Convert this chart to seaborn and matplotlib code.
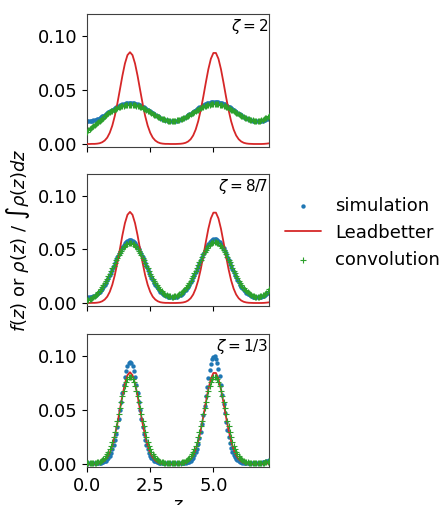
import numpy as np
import pandas as pd
import matplotlib
matplotlib.use("Agg")
import matplotlib.pyplot as plt
import seaborn as sns

# z positions of the Leadbetter curve (step 0.1)
z = [0.0, 0.1, 0.2, 0.3, 0.4, 0.5, 0.6, 0.7, 0.8, 0.9,
     1.0, 1.1, 1.2, 1.3, 1.4, 1.5, 1.6, 1.7, 1.8, 1.9,
     2.0, 2.1, 2.2, 2.3, 2.4, 2.5, 2.6, 2.7, 2.8, 2.9,
     3.0, 3.1, 3.2, 3.3, 3.4, 3.5, 3.6, 3.7, 3.8, 3.9,
     4.0, 4.1, 4.2, 4.3, 4.4, 4.5, 4.6, 4.7, 4.8, 4.9,
     5.0, 5.1, 5.2, 5.3, 5.4, 5.5, 5.6, 5.7, 5.8, 5.9,
     6.0, 6.1, 6.2, 6.3, 6.4, 6.5, 6.6, 6.7, 6.8, 6.9,
     7.0, 7.1, 7.2]

leadbetter = [0.0000, 0.0000, 0.0001, 0.0001, 0.0003, 0.0007, 0.0016, 0.0032, 0.0059, 0.0104,
              0.0170, 0.0260, 0.0374, 0.0502, 0.0632, 0.0745, 0.0823, 0.0850, 0.0823, 0.0745,
              0.0632, 0.0502, 0.0374, 0.0260, 0.0170, 0.0104, 0.0059, 0.0032, 0.0016, 0.0007,
              0.0003, 0.0001, 0.0001, 0.0000, 0.0000, 0.0000, 0.0001, 0.0002, 0.0005, 0.0011,
              0.0023, 0.0044, 0.0079, 0.0134, 0.0212, 0.0315, 0.0437, 0.0568, 0.0692, 0.0789,
              0.0843, 0.0843, 0.0789, 0.0692, 0.0568, 0.0437, 0.0315, 0.0212, 0.0134, 0.0079,
              0.0044, 0.0023, 0.0011, 0.0005, 0.0002, 0.0001, 0.0000, 0.0000, 0.0000, 0.0000,
              0.0001, 0.0003, 0.0006]

# z positions of the simulation / convolution points (step 0.05)
z_pts = [0.00, 0.05, 0.10, 0.15, 0.20, 0.25, 0.30, 0.35, 0.40, 0.45,
         0.50, 0.55, 0.60, 0.65, 0.70, 0.75, 0.80, 0.85, 0.90, 0.95,
         1.00, 1.05, 1.10, 1.15, 1.20, 1.25, 1.30, 1.35, 1.40, 1.45,
         1.50, 1.55, 1.60, 1.65, 1.70, 1.75, 1.80, 1.85, 1.90, 1.95,
         2.00, 2.05, 2.10, 2.15, 2.20, 2.25, 2.30, 2.35, 2.40, 2.45,
         2.50, 2.55, 2.60, 2.65, 2.70, 2.75, 2.80, 2.85, 2.90, 2.95,
         3.00, 3.05, 3.10, 3.15, 3.20, 3.25, 3.30, 3.35, 3.40, 3.45,
         3.50, 3.55, 3.60, 3.65, 3.70, 3.75, 3.80, 3.85, 3.90, 3.95,
         4.00, 4.05, 4.10, 4.15, 4.20, 4.25, 4.30, 4.35, 4.40, 4.45,
         4.50, 4.55, 4.60, 4.65, 4.70, 4.75, 4.80, 4.85, 4.90, 4.95,
         5.00, 5.05, 5.10, 5.15, 5.20, 5.25, 5.30, 5.35, 5.40, 5.45,
         5.50, 5.55, 5.60, 5.65, 5.70, 5.75, 5.80, 5.85, 5.90, 5.95,
         6.00, 6.05, 6.10, 6.15, 6.20, 6.25, 6.30, 6.35, 6.40, 6.45,
         6.50, 6.55, 6.60, 6.65, 6.70, 6.75, 6.80, 6.85, 6.90, 6.95,
         7.00, 7.05, 7.10, 7.15, 7.20]

sim_2 = [0.0210, 0.0210, 0.0211, 0.0213, 0.0215, 0.0218, 0.0222, 0.0226, 0.0231, 0.0236,
         0.0242, 0.0249, 0.0256, 0.0263, 0.0270, 0.0278, 0.0286, 0.0294, 0.0302, 0.0310,
         0.0317, 0.0325, 0.0332, 0.0339, 0.0346, 0.0352, 0.0357, 0.0363, 0.0367, 0.0371,
         0.0374, 0.0377, 0.0379, 0.0380, 0.0380, 0.0380, 0.0379, 0.0377, 0.0374, 0.0371,
         0.0367, 0.0363, 0.0357, 0.0352, 0.0346, 0.0339, 0.0332, 0.0325, 0.0317, 0.0310,
         0.0302, 0.0294, 0.0286, 0.0278, 0.0270, 0.0263, 0.0256, 0.0249, 0.0242, 0.0236,
         0.0231, 0.0226, 0.0222, 0.0218, 0.0215, 0.0213, 0.0211, 0.0210, 0.0210, 0.0211,
         0.0213, 0.0215, 0.0219, 0.0222, 0.0227, 0.0232, 0.0238, 0.0244, 0.0251, 0.0258,
         0.0266, 0.0274, 0.0282, 0.0290, 0.0299, 0.0307, 0.0315, 0.0324, 0.0332, 0.0339,
         0.0347, 0.0354, 0.0360, 0.0366, 0.0372, 0.0376, 0.0380, 0.0384, 0.0387, 0.0388,
         0.0390, 0.0390, 0.0390, 0.0388, 0.0387, 0.0384, 0.0380, 0.0376, 0.0372, 0.0366,
         0.0360, 0.0354, 0.0347, 0.0339, 0.0332, 0.0324, 0.0315, 0.0307, 0.0299, 0.0290,
         0.0282, 0.0274, 0.0266, 0.0258, 0.0251, 0.0244, 0.0238, 0.0232, 0.0227, 0.0222,
         0.0219, 0.0215, 0.0213, 0.0211, 0.0210, 0.0210, 0.0211, 0.0212, 0.0214, 0.0217,
         0.0221, 0.0225, 0.0230, 0.0236, 0.0242]

conv_2 = [0.0115, 0.0125, 0.0135, 0.0145, 0.0155, 0.0165, 0.0175, 0.0185, 0.0195, 0.0204,
          0.0213, 0.0224, 0.0235, 0.0245, 0.0255, 0.0265, 0.0275, 0.0285, 0.0294, 0.0301,
          0.0308, 0.0314, 0.0321, 0.0327, 0.0333, 0.0338, 0.0343, 0.0348, 0.0352, 0.0355,
          0.0358, 0.0360, 0.0362, 0.0363, 0.0363, 0.0363, 0.0362, 0.0360, 0.0358, 0.0355,
          0.0352, 0.0348, 0.0343, 0.0338, 0.0333, 0.0327, 0.0321, 0.0314, 0.0308, 0.0301,
          0.0294, 0.0287, 0.0280, 0.0273, 0.0266, 0.0260, 0.0253, 0.0247, 0.0242, 0.0236,
          0.0232, 0.0227, 0.0223, 0.0220, 0.0217, 0.0215, 0.0214, 0.0213, 0.0213, 0.0215,
          0.0217, 0.0219, 0.0221, 0.0225, 0.0229, 0.0233, 0.0238, 0.0244, 0.0250, 0.0256,
          0.0263, 0.0269, 0.0277, 0.0284, 0.0291, 0.0298, 0.0305, 0.0313, 0.0319, 0.0326,
          0.0332, 0.0339, 0.0344, 0.0349, 0.0354, 0.0358, 0.0362, 0.0365, 0.0367, 0.0369,
          0.0370, 0.0370, 0.0370, 0.0369, 0.0367, 0.0365, 0.0362, 0.0358, 0.0354, 0.0349,
          0.0344, 0.0339, 0.0332, 0.0326, 0.0319, 0.0313, 0.0305, 0.0298, 0.0291, 0.0284,
          0.0277, 0.0269, 0.0263, 0.0256, 0.0250, 0.0244, 0.0238, 0.0233, 0.0229, 0.0225,
          0.0221, 0.0219, 0.0217, 0.0215, 0.0214, 0.0214, 0.0215, 0.0216, 0.0218, 0.0224,
          0.0232, 0.0237, 0.0243, 0.0249, 0.0255]

sim_87 = [0.0051, 0.0052, 0.0053, 0.0055, 0.0059, 0.0063, 0.0069, 0.0077, 0.0085, 0.0095,
          0.0106, 0.0120, 0.0135, 0.0151, 0.0170, 0.0190, 0.0212, 0.0235, 0.0260, 0.0286,
          0.0314, 0.0341, 0.0370, 0.0398, 0.0426, 0.0453, 0.0478, 0.0502, 0.0524, 0.0543,
          0.0560, 0.0573, 0.0582, 0.0588, 0.0590, 0.0588, 0.0582, 0.0573, 0.0560, 0.0543,
          0.0524, 0.0502, 0.0478, 0.0453, 0.0426, 0.0398, 0.0370, 0.0341, 0.0314, 0.0286,
          0.0260, 0.0235, 0.0212, 0.0190, 0.0170, 0.0151, 0.0136, 0.0121, 0.0107, 0.0096,
          0.0087, 0.0077, 0.0070, 0.0064, 0.0060, 0.0056, 0.0054, 0.0053, 0.0053, 0.0054,
          0.0056, 0.0060, 0.0064, 0.0070, 0.0078, 0.0086, 0.0096, 0.0108, 0.0121, 0.0136,
          0.0153, 0.0172, 0.0193, 0.0215, 0.0239, 0.0264, 0.0291, 0.0319, 0.0347, 0.0376,
          0.0405, 0.0433, 0.0460, 0.0486, 0.0511, 0.0533, 0.0553, 0.0569, 0.0582, 0.0592,
          0.0598, 0.0600, 0.0598, 0.0592, 0.0582, 0.0569, 0.0553, 0.0533, 0.0511, 0.0486,
          0.0460, 0.0433, 0.0405, 0.0376, 0.0347, 0.0319, 0.0291, 0.0264, 0.0239, 0.0215,
          0.0193, 0.0172, 0.0153, 0.0136, 0.0121, 0.0109, 0.0097, 0.0088, 0.0080, 0.0070,
          0.0064, 0.0059, 0.0056, 0.0053, 0.0052, 0.0052, 0.0053, 0.0055, 0.0058, 0.0062,
          0.0068, 0.0074, 0.0082, 0.0092, 0.0103]

conv_87 = [0.0030, 0.0032, 0.0035, 0.0040, 0.0045, 0.0053, 0.0062, 0.0073, 0.0085, 0.0099,
           0.0113, 0.0131, 0.0150, 0.0168, 0.0186, 0.0206, 0.0227, 0.0250, 0.0273, 0.0298,
           0.0322, 0.0348, 0.0373, 0.0398, 0.0422, 0.0445, 0.0467, 0.0487, 0.0505, 0.0521,
           0.0535, 0.0546, 0.0554, 0.0558, 0.0560, 0.0558, 0.0554, 0.0546, 0.0535, 0.0521,
           0.0505, 0.0487, 0.0467, 0.0445, 0.0422, 0.0398, 0.0373, 0.0348, 0.0322, 0.0298,
           0.0273, 0.0250, 0.0227, 0.0207, 0.0187, 0.0168, 0.0150, 0.0135, 0.0120, 0.0108,
           0.0097, 0.0087, 0.0079, 0.0073, 0.0067, 0.0063, 0.0061, 0.0060, 0.0060, 0.0061,
           0.0064, 0.0067, 0.0073, 0.0080, 0.0088, 0.0098, 0.0110, 0.0122, 0.0137, 0.0152,
           0.0170, 0.0188, 0.0209, 0.0231, 0.0254, 0.0278, 0.0303, 0.0328, 0.0354, 0.0379,
           0.0405, 0.0429, 0.0453, 0.0475, 0.0496, 0.0514, 0.0531, 0.0545, 0.0556, 0.0564,
           0.0568, 0.0570, 0.0568, 0.0564, 0.0556, 0.0545, 0.0531, 0.0514, 0.0496, 0.0475,
           0.0453, 0.0429, 0.0405, 0.0379, 0.0354, 0.0328, 0.0303, 0.0278, 0.0254, 0.0231,
           0.0209, 0.0189, 0.0171, 0.0153, 0.0139, 0.0124, 0.0113, 0.0101, 0.0092, 0.0080,
           0.0073, 0.0067, 0.0063, 0.0060, 0.0059, 0.0058, 0.0060, 0.0062, 0.0065, 0.0071,
           0.0077, 0.0085, 0.0094, 0.0110, 0.0130]

sim_13 = [0.0010, 0.0010, 0.0010, 0.0010, 0.0010, 0.0010, 0.0010, 0.0010, 0.0010, 0.0010,
          0.0011, 0.0012, 0.0015, 0.0018, 0.0024, 0.0032, 0.0042, 0.0057, 0.0077, 0.0103,
          0.0135, 0.0176, 0.0224, 0.0281, 0.0347, 0.0419, 0.0497, 0.0578, 0.0659, 0.0736,
          0.0806, 0.0866, 0.0910, 0.0938, 0.0948, 0.0938, 0.0910, 0.0866, 0.0806, 0.0736,
          0.0659, 0.0578, 0.0497, 0.0419, 0.0347, 0.0281, 0.0224, 0.0176, 0.0135, 0.0103,
          0.0077, 0.0057, 0.0042, 0.0032, 0.0024, 0.0018, 0.0015, 0.0012, 0.0011, 0.0010,
          0.0009, 0.0009, 0.0008, 0.0008, 0.0008, 0.0008, 0.0008, 0.0008, 0.0008, 0.0008,
          0.0008, 0.0008, 0.0008, 0.0008, 0.0008, 0.0008, 0.0009, 0.0010, 0.0012, 0.0014,
          0.0018, 0.0023, 0.0031, 0.0043, 0.0058, 0.0079, 0.0107, 0.0142, 0.0186, 0.0239,
          0.0301, 0.0373, 0.0453, 0.0538, 0.0626, 0.0713, 0.0795, 0.0868, 0.0928, 0.0971,
          0.0994, 0.0996, 0.0977, 0.0938, 0.0882, 0.0811, 0.0730, 0.0643, 0.0555, 0.0469,
          0.0388, 0.0315, 0.0251, 0.0196, 0.0150, 0.0113, 0.0084, 0.0062, 0.0045, 0.0033,
          0.0025, 0.0019, 0.0015, 0.0012, 0.0011, 0.0010, 0.0009, 0.0009, 0.0008, 0.0008,
          0.0008, 0.0008, 0.0008, 0.0008, 0.0009, 0.0009, 0.0010, 0.0011, 0.0012, 0.0014,
          0.0016, 0.0019, 0.0024, 0.0031, 0.0040]

conv_13 = [0.0012, 0.0011, 0.0010, 0.0009, 0.0009, 0.0010, 0.0011, 0.0013, 0.0015, 0.0018,
           0.0022, 0.0027, 0.0034, 0.0043, 0.0055, 0.0070, 0.0089, 0.0111, 0.0138, 0.0171,
           0.0208, 0.0250, 0.0297, 0.0348, 0.0402, 0.0459, 0.0516, 0.0573, 0.0628, 0.0678,
           0.0722, 0.0759, 0.0786, 0.0802, 0.0808, 0.0802, 0.0786, 0.0759, 0.0722, 0.0678,
           0.0628, 0.0573, 0.0516, 0.0459, 0.0402, 0.0348, 0.0297, 0.0250, 0.0208, 0.0171,
           0.0138, 0.0111, 0.0089, 0.0070, 0.0055, 0.0043, 0.0034, 0.0027, 0.0022, 0.0018,
           0.0015, 0.0013, 0.0011, 0.0010, 0.0009, 0.0009, 0.0009, 0.0009, 0.0009, 0.0009,
           0.0009, 0.0009, 0.0010, 0.0011, 0.0013, 0.0015, 0.0018, 0.0022, 0.0027, 0.0034,
           0.0043, 0.0055, 0.0070, 0.0089, 0.0111, 0.0138, 0.0171, 0.0208, 0.0250, 0.0297,
           0.0348, 0.0402, 0.0459, 0.0516, 0.0573, 0.0628, 0.0678, 0.0722, 0.0759, 0.0786,
           0.0802, 0.0808, 0.0802, 0.0786, 0.0759, 0.0722, 0.0678, 0.0628, 0.0573, 0.0516,
           0.0459, 0.0402, 0.0348, 0.0297, 0.0250, 0.0208, 0.0171, 0.0138, 0.0111, 0.0089,
           0.0070, 0.0055, 0.0043, 0.0034, 0.0027, 0.0022, 0.0018, 0.0015, 0.0013, 0.0011,
           0.0010, 0.0009, 0.0009, 0.0009, 0.0009, 0.0009, 0.0010, 0.0010, 0.0011, 0.0012,
           0.0013, 0.0014, 0.0016, 0.0020, 0.0025]

panel_labels = [r"$\zeta = 2$", r"$\zeta = 8/7$", r"$\zeta = 1/3$"]
sim_series = [sim_2, sim_87, sim_13]
conv_series = [conv_2, conv_87, conv_13]
xticks = [0.0, 2.5, 5.0]
xticklabels = ["0.0", "2.5", "5.0"]
yticks = [0.00, 0.05, 0.10]
yticklabels = ["0.00", "0.05", "0.10"]

sns.set_style("ticks", {"axes.edgecolor": "0.25", "text.color": "black",
                        "axes.labelcolor": "black", "xtick.color": "black",
                        "ytick.color": "black"})
plt.rcParams["font.family"] = ["DejaVu Sans"]
plt.rcParams["mathtext.fontset"] = "dejavusans"

fig = plt.figure(figsize=(4.41, 5.05), dpi=100)
positions = [[0.1973, 0.7089, 0.4127, 0.2634],
             [0.1973, 0.3941, 0.4127, 0.2614],
             [0.1973, 0.0752, 0.4127, 0.2634]]

axes = []
for i in range(3):
    ax = fig.add_axes(positions[i])
    pts = pd.DataFrame({"z": z_pts, "sim": sim_series[i], "conv": conv_series[i]})
    line = pd.DataFrame({"z": z, "lead": leadbetter})
    sns.scatterplot(data=pts, x="z", y="sim", ax=ax, color="#1f77b4", marker="o", s=10,
                    linewidth=0, label="simulation", zorder=2)
    sns.lineplot(data=line, x="z", y="lead", ax=ax, color="#d62728", linewidth=1.3,
                 label="Leadbetter", errorbar=None, zorder=3)
    sns.scatterplot(data=pts, x="z", y="conv", ax=ax, color="#2ca02c", marker="+", s=18,
                    linewidth=0.8, label="convolution", zorder=4)
    if ax.get_legend() is not None:
        ax.get_legend().remove()
    ax.set_xlim(0, 7.2)
    ax.set_ylim(-0.0028, 0.1204)
    ax.set_xticks(xticks)
    ax.set_yticks(yticks)
    ax.set_yticklabels(yticklabels, fontsize=13)
    if i < 2:
        ax.set_xticklabels([])
    else:
        ax.set_xticklabels(xticklabels, fontsize=13)
    ax.set_xlabel("")
    ax.set_ylabel("")
    for sp in ax.spines.values():
        sp.set_linewidth(0.8)
    ax.text(0.995, 0.975, panel_labels[i], transform=ax.transAxes, ha="right", va="top",
            fontsize=11)
    axes.append(ax)

axes[1].set_ylabel(r"$f(z)$ or $\rho(z)$ / $\int\rho(z)dz$", fontsize=13)
axes[2].set_xlabel(r"$z$", fontsize=13, labelpad=1)

handles, labels = axes[1].get_legend_handles_labels()
fig.legend(handles, labels, loc="center left", bbox_to_anchor=(0.609, 0.539),
           frameon=False, fontsize=13, handlelength=2)

fig.savefig("out.png", dpi=100)
